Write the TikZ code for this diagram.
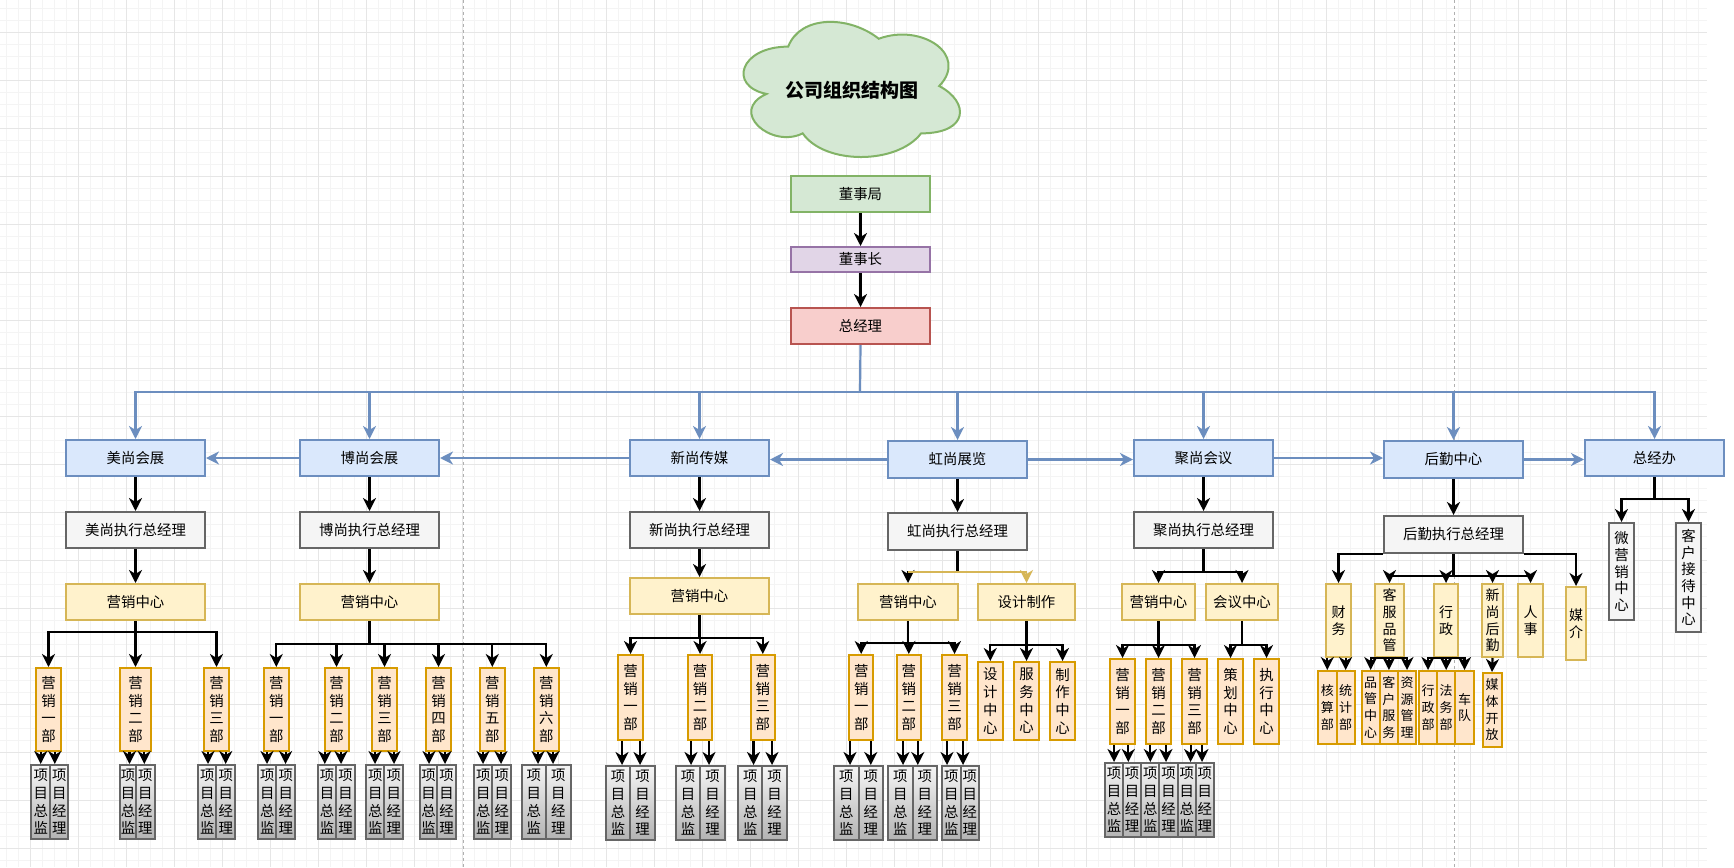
\documentclass[tikz,border=0pt]{standalone}
\usepackage{fontspec}
\newfontfamily\cjk{Noto Sans CJK SC}
\usetikzlibrary{arrows.meta,calc}
\definecolor{bfill}{HTML}{DAE8FC}\definecolor{bline}{HTML}{6C8EBF}
\definecolor{efill}{HTML}{F5F5F5}\definecolor{eline}{HTML}{666666}
\definecolor{yfill}{HTML}{FFF2CC}\definecolor{yline}{HTML}{D6B656}
\definecolor{ofill}{HTML}{FFE6CC}\definecolor{oline}{HTML}{D79B00}
\definecolor{gfill}{HTML}{D5E8D4}\definecolor{gline}{HTML}{82B366}
\definecolor{pfill}{HTML}{E1D5E7}\definecolor{pline}{HTML}{9673A6}
\definecolor{rfill}{HTML}{F8CECC}\definecolor{rline}{HTML}{B85450}
\definecolor{gradb}{HTML}{B3B3B3}
\definecolor{gmaj}{HTML}{E6E6E6}\definecolor{gmin}{HTML}{F4F4F4}
\definecolor{pgbrk}{HTML}{B0B0B0}
\tikzset{
 basebox/.style={rectangle, draw, line width=2pt, inner sep=0pt, align=center, font=\cjk\fontsize{14.4}{17.7}\selectfont},
 bbox/.style={basebox, fill=bfill, draw=bline},
 gbox/.style={basebox, fill=gfill, draw=gline},
 pbox/.style={basebox, fill=pfill, draw=pline},
 rbox/.style={basebox, fill=rfill, draw=rline},
 ebox/.style={basebox, fill=efill, draw=eline},
 vebox/.style={ebox, font=\cjk\fontsize{14.4}{16.7}\selectfont},
 ybox/.style={basebox, fill=yfill, draw=yline},
 vybox/.style={ybox, font=\cjk\fontsize{14}{16.7}\selectfont},
 obox/.style={basebox, fill=ofill, draw=oline},
 osbox/.style={obox, font=\cjk\fontsize{13}{16.7}\selectfont},
 gradbox/.style={basebox, top color=efill, bottom color=gradb, draw=eline},
 arr/.style={line width=2.2pt, -{Stealth[length=13pt,width=13pt,inset=4pt]}},
 barr/.style={arr, draw=bline},
 bln/.style={line width=2.2pt, draw=bline},
 yarr/.style={line width=1.8pt, draw=yline, -{Stealth[length=13pt,width=13pt,inset=4pt]}},
 gridmin/.style={draw=gmin, line width=1pt},
 gridmaj/.style={draw=gmaj, line width=1pt},
 pagebreak/.style={draw=pgbrk, line width=1pt, dash pattern=on 3pt off 3pt},
}
\newcommand\bx[7]{\node[#6, minimum width={(#4-#2)*1pt}, minimum height={(#5-#3)*1pt}] (#1) at ({(#2+#4)/2},{(#3+#5)/2}) {#7};}
\begin{document}
\begin{tikzpicture}[x=1pt,y=-1pt]
\useasboundingbox (0,0) rectangle (1734,867);
\fill[white] (0,0) rectangle (1734,867);
% grid
\begin{scope}
\clip (0,0) rectangle (1707,867);
\foreach \i in {0,...,141} \draw[gridmin] ({6.2+12*\i},0) -- ++(0,867);
\foreach \i in {0,...,71} \draw[gridmin] (0,{8.3+12*\i}) -- ++(1707,0);
\foreach \i in {0,...,35} \draw[gridmaj] ({30.2+48*\i},0) -- ++(0,867);
\foreach \i in {0,...,17} \draw[gridmaj] (0,{32.3+48*\i}) -- ++(1707,0);
\end{scope}
\draw[pagebreak] (463,0) -- (463,867);
\draw[pagebreak] (1454,0) -- (1454,867);
% cloud
\begin{scope}[shift={(727.8pt,-7.2pt)}, x=241.6pt, y=-157.7pt]
\draw[line width=2pt, draw=gline, fill=gfill] (0.25,0.25) .. controls (0.05,0.25) and (0,0.5) .. (0.16,0.55) .. controls (0,0.66) and (0.18,0.9) .. (0.31,0.8) .. controls (0.4,1) and (0.7,1) .. (0.8,0.8) .. controls (1,0.8) and (1,0.6) .. (0.875,0.5) .. controls (1,0.3) and (0.8,0.1) .. (0.625,0.2) .. controls (0.5,0.05) and (0.3,0.05) .. (0.25,0.25) -- cycle;
\end{scope}
\node[font=\cjk\bfseries\fontsize{19}{22}\selectfont] (title) at (852,90) {公司组织结构图};
% top chain
\bx{dsj}{791}{176}{930}{212}{gbox}{董事局}
\bx{dsz}{791}{247}{930}{272}{pbox}{董事长}
\bx{zjl}{791}{308}{930}{344}{rbox}{总经理}
% blue row
\bx{ms}{66}{440}{205}{476}{bbox}{美尚会展}
\bx{bs}{300}{440}{439}{476}{bbox}{博尚会展}
\bx{xs}{630}{440}{769}{476}{bbox}{新尚传媒}
\bx{hs}{888}{441}{1027}{478}{bbox}{虹尚展览}
\bx{js}{1134}{440}{1273}{476}{bbox}{聚尚会议}
\bx{hq}{1384}{441}{1523}{478}{bbox}{后勤中心}
\bx{zjb}{1585}{440}{1724}{476}{bbox}{总经办}
% exec row
\bx{msz}{66}{512}{205}{548}{ebox}{美尚执行总经理}
\bx{bsz}{300}{512}{439}{548}{ebox}{博尚执行总经理}
\bx{xsz}{630}{512}{769}{548}{ebox}{新尚执行总经理}
\bx{hsz}{888}{513}{1027}{550}{ebox}{虹尚执行总经理}
\bx{jsz}{1134}{512}{1273}{548}{ebox}{聚尚执行总经理}
\bx{hqz}{1384}{516}{1523}{553}{ebox}{后勤执行总经理}
% level 3
\bx{msy}{66}{584}{205}{620}{ybox}{营销中心}
\bx{bsy}{300}{584}{439}{620}{ybox}{营销中心}
\bx{xsy}{630}{578}{769}{614}{ybox}{营销中心}
\bx{hsy}{858}{584}{958}{620}{ybox}{营销中心}
\bx{hsd}{978}{584}{1075}{620}{ybox}{设计制作}
\bx{jsy}{1122}{584}{1195}{620}{ybox}{营销中心}
\bx{jsh}{1206}{584}{1278}{620}{ybox}{会议中心}
\bx{cw}{1326}{584}{1351}{657}{vybox}{财\\务}
\bx{kf}{1375}{584}{1404}{657}{vybox}{客\\服\\品\\管}
\bx{xz}{1434}{584}{1458}{657}{vybox}{行\\政}
\bx{xh}{1482}{584}{1503}{657}{vybox}{新\\尚\\后\\勤}
\bx{rs}{1518}{584}{1543}{657}{vybox}{人\\事}
\bx{mj}{1566}{587}{1586}{660}{vybox}{媒\\介}
\bx{wyx}{1609}{523}{1634}{620}{vebox}{微\\营\\销\\中\\心}
\bx{kh}{1676}{523}{1701}{632}{vebox}{客\\户\\接\\待\\中\\心}
% level 4
\bx{m1}{36}{668}{61}{751}{obox}{营\\销\\一\\部}
\bx{m2}{120}{668}{151}{751}{obox}{营\\销\\二\\部}
\bx{m3}{204}{668}{229}{751}{obox}{营\\销\\三\\部}
\bx{b1}{264}{668}{288.6}{751}{obox}{营\\销\\一\\部}
\bx{b2}{324.5}{668}{348.5}{751}{obox}{营\\销\\二\\部}
\bx{b3}{372}{668}{397}{751}{obox}{营\\销\\三\\部}
\bx{b4}{426}{668}{451}{751}{obox}{营\\销\\四\\部}
\bx{b5}{480}{668}{504.6}{751}{obox}{营\\销\\五\\部}
\bx{b6}{534}{668}{558.6}{751}{obox}{营\\销\\六\\部}
\bx{x1}{618}{655}{643}{740}{obox}{营\\销\\一\\部}
\bx{x2}{687.7}{655}{712.4}{740}{obox}{营\\销\\二\\部}
\bx{x3}{750.5}{655}{775}{740}{obox}{营\\销\\三\\部}
\bx{h1}{849}{655}{873.4}{740}{obox}{营\\销\\一\\部}
\bx{h2}{896.7}{655}{921}{740}{obox}{营\\销\\二\\部}
\bx{h3}{942}{655}{967}{740}{obox}{营\\销\\三\\部}
\bx{d1}{978}{662}{1002.5}{740}{obox}{设\\计\\中\\心}
\bx{d2}{1014}{662}{1039}{740}{obox}{服\\务\\中\\心}
\bx{d3}{1050}{662}{1075}{740}{obox}{制\\作\\中\\心}
\bx{j1}{1110}{659}{1135}{744}{obox}{营\\销\\一\\部}
\bx{j2}{1146}{659}{1171}{744}{obox}{营\\销\\二\\部}
\bx{j3}{1182}{659}{1207}{744}{obox}{营\\销\\三\\部}
\bx{c1}{1218}{659}{1243}{744}{obox}{策\\划\\中\\心}
\bx{c2}{1254}{659}{1279}{744}{obox}{执\\行\\中\\心}
\bx{q1}{1318}{671}{1336.6}{744}{osbox}{核\\算\\部}
\bx{q2}{1336.6}{671}{1354.7}{744}{osbox}{统\\计\\部}
\bx{q3}{1361.6}{671}{1379.8}{744}{osbox}{品\\管\\中\\心}
\bx{q4}{1379.8}{671}{1398}{744}{osbox}{客\\户\\服\\务}
\bx{q5}{1398}{671}{1416}{744}{osbox}{资\\源\\管\\理}
\bx{q6}{1419}{671}{1437}{744}{osbox}{行\\政\\部}
\bx{q7}{1437}{671}{1455.4}{744}{osbox}{法\\务\\部}
\bx{q8}{1455.4}{671}{1473.6}{744}{osbox}{车\\队}
\bx{q9}{1482.5}{673}{1501.5}{747}{osbox}{媒\\体\\开\\放}
% level 5 pairs
\foreach \n/\a/\b/\c/\p/\t/\u/\v in {
 ma/31.4/50/68.4/m1/765/40.7/54.8, mb/120/136.1/154.6/m2/765/129.5/144.3, mc/198/216.4/235/m3/765/208/225.7,
 ba/258/276.4/295/b1/765/267/285.6, bb/318/336.3/355/b2/765/324.8/341, bc/366/384.4/403/b3/765/375/394,
 bd/420/437.3/456/b4/765/429/445, be/474/492.4/511/b5/765/483/501, bf/521.6/546/570.5/b6/765/538/553,
 xa/606/630.3/654.7/x1/766/622/640, xb/675.8/700.2/724.7/x2/766/691/709, xc/738/762.4/786.8/x3/766/753.5/772,
 ha/834/858.6/883/h1/766/850/870.8, hb/888/912.6/937/h2/766/903/917.8, hc/942/960.7/979/h3/766/947/963,
 ja/1105/1123/1141.2/j1/763/1114/1128.3, jb/1141.2/1159.4/1177.6/j2/763/1150.3/1166, jc/1177.6/1195.8/1213.6/j3/763/1190.6/1202}
{
 \bx{\n-l}{\a}{\t}{\b}{\t+74}{gradbox}{项\\目\\总\\监}
 \bx{\n-r}{\b}{\t}{\c}{\t+74}{gradbox}{项\\目\\经\\理}
 \draw[arr] (\p.south -| \u,0) -- (\n-l.north -| \u,0);
 \draw[arr] (\p.south -| \v,0) -- (\n-r.north -| \v,0);
}
% connectors top
\draw[arr] (dsj.south) -- (dsz.north);
\draw[arr] (dsz.south) -- (zjl.north);
\coordinate (bus) at (860,392);
\draw[bln] (zjl.south) -- (bus);
\foreach \c in {ms,bs,xs,hs,js,hq,zjb} \draw[barr] (bus) -| (\c.north);
\draw[barr] (bs.west) -- (bs.west -| ms.east);
\draw[barr] (xs.west) -- (xs.west -| bs.east);
\draw[barr] (hs.west) -- (hs.west -| xs.east);
\draw[barr] (hs.east) -- (hs.east -| js.west);
\draw[barr] (js.east) -- (js.east -| hq.west);
\draw[barr] (hq.east) -- (hq.east -| zjb.west);
% blue -> exec -> level3
\foreach \a/\b in {ms/msz,bs/bsz,xs/xsz,hs/hsz,js/jsz,hq/hqz,msz/msy,bsz/bsy,xsz/xsy}
 \draw[arr] (\a.south) -- (\b.north);
\path (hsz.south) ++(0,21) coordinate (hsb);
\draw[arr] (hsz.south) -- (hsb) -| (hsy.north);
\draw[yarr] (hsb) -| (hsd.north);
\draw[line width=1.8pt, draw=yline] (hsb) -- (hsb -| hsy.north);
\foreach \c in {jsy,jsh} \draw[arr] (jsz.south) -- ++(0,23) -| (\c.north);
\draw[arr] (hqz.south west) -| (cw.north);
\draw[arr] (hqz.south east) -| (mj.north);
\foreach \c in {kf,xz,xh,rs} \draw[arr] (hqz.south) -- ++(0,22) -| (\c.north);
\foreach \c in {wyx,kh} \draw[arr] (zjb.south) -- ++(0,22) -| (\c.north);
% level3 -> level4
\foreach \c in {m1,m2,m3} \draw[arr] (msy.south) -- ++(0,11) -| (\c.north);
\foreach \c in {b1,b2,b3,b4,b5,b6} \draw[arr] (bsy.south) -- ++(0,23) -| (\c.north);
\foreach \c in {x1,x2,x3} \draw[arr] (xsy.south) -- ++(0,23) -| (\c.north);
\foreach \c in {h1,h2,h3} \draw[arr] (hsy.south) -- ++(0,22) -| (\c.north);
\foreach \c in {d1,d2,d3} \draw[arr] (hsd.south) -- ++(0,24) -| (\c.north);
\foreach \c in {j1,j2,j3} \draw[arr] (jsy.south) -- ++(0,24) -| (\c.north);
\foreach \c in {c1,c2} \draw[arr] (jsh.south) -- ++(0,24) -| (\c.north);
\foreach \c in {q1,q2} \draw[arr] (cw.south -| \c.north) -- (\c.north);
\foreach \c in {q3,q4,q5} \draw[arr] (kf.south) -| (\c.north);
\foreach \c in {q6,q7,q8} \draw[arr] (xz.south) -| (\c.north);
\draw[arr] (xh.south) -- (q9.north);
\end{tikzpicture}
\end{document}
